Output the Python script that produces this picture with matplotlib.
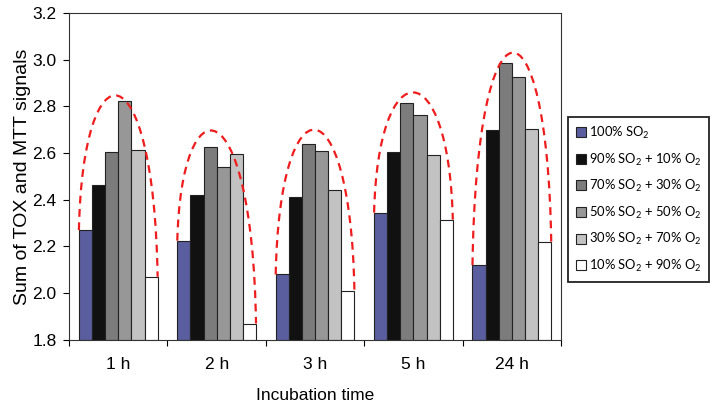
import numpy as np
import matplotlib
matplotlib.use("Agg")
import matplotlib.pyplot as plt
from matplotlib.path import Path
from matplotlib.patches import PathPatch

# données
times = ["1 h", "2 h", "3 h", "5 h", "24 h"]
labels = ["100% SO$_2$", "90% SO$_2$ + 10% O$_2$", "70% SO$_2$ + 30% O$_2$",
          "50% SO$_2$ + 50% O$_2$", "30% SO$_2$ + 70% O$_2$", "10% SO$_2$ + 90% O$_2$"]
so2_100 = [2.27, 2.225, 2.08, 2.345, 2.12]
so2_90 = [2.465, 2.42, 2.41, 2.605, 2.70]
so2_70 = [2.605, 2.625, 2.64, 2.815, 2.985]
so2_50 = [2.825, 2.54, 2.61, 2.765, 2.925]
so2_30 = [2.615, 2.595, 2.44, 2.59, 2.705]
so2_10 = [2.07, 1.87, 2.01, 2.315, 2.22]
arc_peaks = [2.845, 2.69, 2.70, 2.86, 3.03]

series = [so2_100, so2_90, so2_70, so2_50, so2_30, so2_10]
colors = ["#5b5e9e", "#111111", "#7c7c7c", "#979797", "#c2c2c2", "#ffffff"]

plt.rcParams['font.family'] = ['Liberation Sans', 'DejaVu Sans']
plt.rcParams['mathtext.fontset'] = 'custom'
plt.rcParams['mathtext.rm'] = 'Lato'
plt.rcParams['mathtext.it'] = 'Lato:italic'
plt.rcParams['mathtext.default'] = 'rm'

fig = plt.figure(figsize=(7.12, 4.07), dpi=100)
ax = fig.add_axes([0.097, 0.165, 0.691, 0.803])

x = np.arange(len(times))
w = 0.8 / len(series)
for i, (vals, c) in enumerate(zip(series, colors)):
    ax.bar(x - 0.4 + w * (i + 0.5), np.array(vals) - 1.8, w, bottom=1.8,
           color=c, edgecolor="#222222", linewidth=0.8, label=labels[i], zorder=2)

# arcs rouges en pointillés (courbes de Bézier)
for i in range(len(times)):
    x0, x1 = x[i] - 0.4, x[i] + 0.4
    y0, y1 = so2_100[i], so2_10[i]
    h = (arc_peaks[i] - (y0 + y1) / 8) / 0.75
    p = Path([(x0, y0), (x0 + 0.04, h), (x1 - 0.04, h), (x1, y1)],
             [Path.MOVETO, Path.CURVE4, Path.CURVE4, Path.CURVE4])
    ax.add_patch(PathPatch(p, fill=False, edgecolor="#ee1c1c", linewidth=1.6,
                           linestyle=(0, (3.5, 2.5)), zorder=3))

ax.set_xlim(-0.5, len(times) - 0.5)
ax.set_ylim(1.8, 3.2)
ax.set_yticks(np.arange(1.8, 3.21, 0.2))
ax.set_yticklabels(["%.1f" % v for v in np.arange(1.8, 3.21, 0.2)], fontsize=12.5)
ax.set_xticks(np.arange(-0.5, len(times)), minor=False)
ax.set_xticklabels([])
ax.set_xticks(x, minor=True)
ax.set_xticklabels(times, minor=True, fontsize=12.5)
ax.tick_params(axis="x", which="minor", length=0, pad=12)
ax.tick_params(axis="x", which="major", length=4, direction="out")
ax.tick_params(axis="y", length=4, direction="out", pad=5)
for s in ax.spines.values():
    s.set_color("#333333")
ax.set_xlabel("Incubation time", fontsize=12.5, labelpad=12)
ax.set_ylabel("Sum of TOX and MTT signals", fontsize=14, labelpad=1)

leg = ax.legend(loc="center left", bbox_to_anchor=(1.006, 0.43), fancybox=False,
                framealpha=1, edgecolor="#222222",
                prop={"family": "Lato", "size": 9.4},
                handlelength=0.8, handleheight=0.8, handletextpad=0.2,
                labelspacing=0.8, borderpad=0.6, borderaxespad=0.3)
leg.get_frame().set_linewidth(1.3)

fig.savefig("out.png", dpi=100)
